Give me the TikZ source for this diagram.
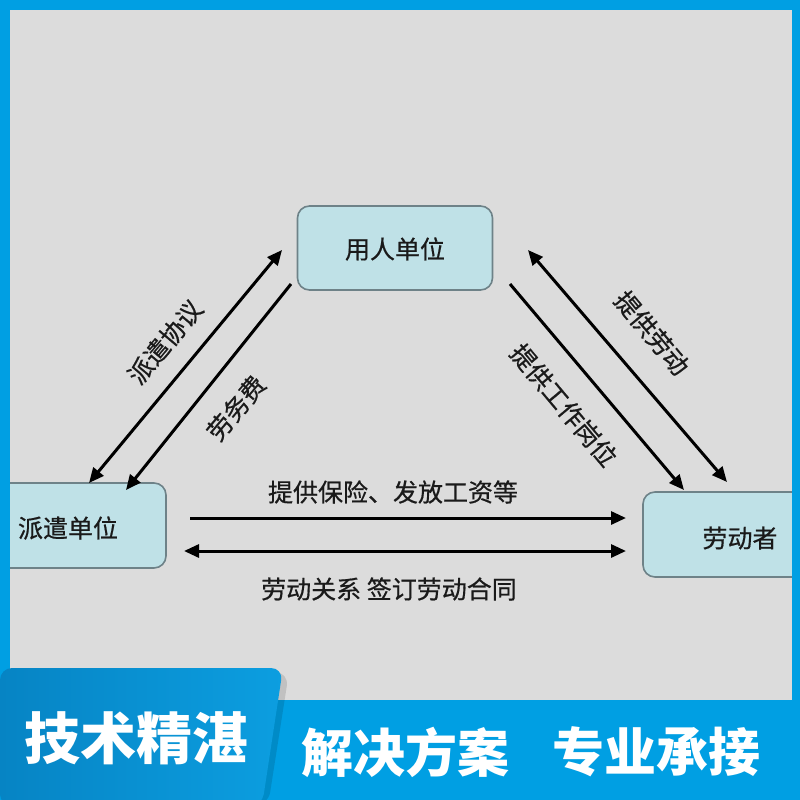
\documentclass[tikz,border=0pt]{standalone}
\usepackage{fontspec}
\newfontfamily\cjk{Noto Sans CJK SC}
\newfontfamily\cjkfb{Noto Sans CJK SC}[FakeBold=0.6]
\usetikzlibrary{arrows.meta}
\definecolor{bggray}{HTML}{DCDCDC}
\definecolor{frameblue}{HTML}{009FE3}
\definecolor{boxfill}{HTML}{BFE1E7}
\definecolor{boxdraw}{HTML}{6E8288}
\definecolor{tabdark}{HTML}{0684C4}
\definecolor{tablight}{HTML}{0C9EE0}
\definecolor{txt}{HTML}{1A1A1A}
\tikzset{
  box/.style={draw=boxdraw, line width=1.6pt, fill=boxfill, rounded corners=12pt},
  lbl/.style={font=\cjkfb\fontsize{25}{25}\selectfont, text=txt, inner sep=0pt},
  rel/.style={line width=3pt, draw=black, -{Triangle[length=15pt,width=13pt]}},
  rel2/.style={line width=3pt, draw=black, {Triangle[length=15pt,width=13pt]}-{Triangle[length=15pt,width=13pt]}},
  banner/.style={font=\cjk\bfseries\fontsize{56}{56}\selectfont, text=white, inner sep=0pt}
}
\begin{document}
\begin{tikzpicture}[x=1pt,y=-1pt]
\useasboundingbox (0,0) rectangle (800,800);
\clip (0,0) rectangle (800,800);
% background
\fill[frameblue] (0,0) rectangle (800,800);
\fill[bggray] (10,10) rectangle (792,700);
% boxes
\node[box, minimum width=195pt, minimum height=84pt] (yr) at (395,248) {};
\node[lbl] (yrt) at (395,249) {用人单位};
\node[box, minimum width=180pt, minimum height=85pt] (pq) at (76,525.5) {};
\node[lbl] (pqt) at (68,528) {派遣单位};
\node[box, minimum width=170pt, minimum height=85pt] (ld) at (728,534.5) {};
\node[lbl] (ldt) at (740,538) {劳动者};
% frame strips over boxes
\fill[frameblue] (0,0) rectangle (10,700);
\fill[frameblue] (792,0) rectangle (800,700);
% arrow end points
\coordinate (a1) at (282,250);
\coordinate (a2) at (89,483);
\coordinate (b1) at (291,284);
\coordinate (b2) at (126,490);
\coordinate (c1) at (528,250);
\coordinate (c2) at (727,482);
\coordinate (d1) at (510,284);
\coordinate (d2) at (684,490);
\coordinate (e1) at (190,518);
\coordinate (e2) at (626,518);
\coordinate (f1) at (184,551);
\coordinate (f2) at (626,551);
\draw[rel2] (a2) -- (a1);
\draw[rel] (b1) -- (b2);
\draw[rel2] (c1) -- (c2);
\draw[rel] (d1) -- (d2);
\draw[rel] (e1) -- (e2);
\draw[rel2] (f1) -- (f2);
% labels
\node[lbl, rotate=50] (l1) at (165,342) {派遣协议};
\node[lbl, rotate=50] (l2) at (236,408) {劳务费};
\node[lbl, rotate=-50] (l3) at (652,333) {提供劳动};
\node[lbl, rotate=-50] (l4) at (564,405) {提供工作岗位};
\node[lbl] (l5) at (393,492) {提供保险、发放工资等};
\node[lbl] (l6) at (389,589) {劳动关系 签订劳动合同};
% banner
\fill[frameblue] (0,700) rectangle (800,800);
\fill[black, opacity=0.12, rounded corners=14pt] (0,806) -- (0,672) -- (289,672) -- (268,806) -- cycle;
\shade[left color=tabdark, right color=tablight, rounded corners=12pt] (0,806) -- (0,668) -- (283,668) -- (262,806) -- cycle;
\node[banner] (t1) at (136,738) {技术精湛};
\node[banner, font=\cjk\bfseries\fontsize{52}{52}\selectfont] (t2) at (405,752) {解决方案};
\node[banner, font=\cjk\bfseries\fontsize{52}{52}\selectfont] (t3) at (656,752) {专业承接};
\end{tikzpicture}
\end{document}
